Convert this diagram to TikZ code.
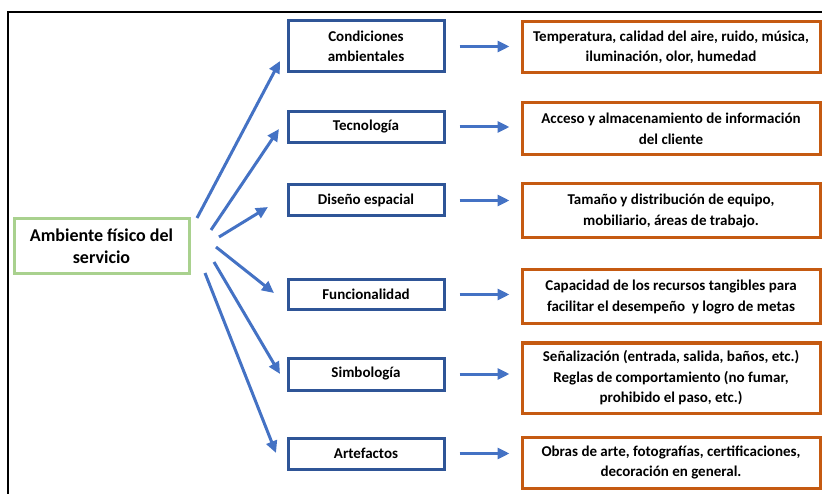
\documentclass[tikz,border=0pt]{standalone}
\usepackage{fontspec}
\setmainfont{Carlito}
\usetikzlibrary{arrows.meta}
\definecolor{boxblue}{RGB}{47,85,151}
\definecolor{boxorange}{RGB}{197,90,17}
\definecolor{boxgreen}{RGB}{169,209,142}
\definecolor{arrowblue}{RGB}{68,114,196}
\tikzset{
  base/.style={rectangle, align=center, inner sep=2pt, text=black,
    font=\bfseries\fontsize{15}{20.5}\selectfont},
  catbox/.style={base, draw=boxblue, line width=3pt, minimum width=156pt},
  descbox/.style={base, draw=boxorange, line width=3pt, minimum width=298pt},
  rootbox/.style={base, draw=boxgreen, line width=3pt, minimum width=175pt,
    minimum height=55pt, font=\bfseries\fontsize{18}{22}\selectfont},
  link/.style={draw=arrowblue, line width=3pt,
    -{Triangle[length=12pt,width=11pt]}},
  frameline/.style={draw=black, line width=2pt}
}
\begin{document}
\begin{tikzpicture}[x=1pt,y=-1pt]
\useasboundingbox (0,0) rectangle (822,494);
\draw[frameline] (8,494) -- (8,12) -- (822,12);

% root
\node[rootbox] (root) at (101.5,246.5) {Ambiente físico del\\servicio};

% categories
\node[catbox, minimum height=51pt] (b1) at (366,46.5) {Condiciones\\ambientales};
\node[catbox, minimum height=31pt] (b2) at (366,127) {Tecnología};
\node[catbox, minimum height=31pt] (b3) at (366,200.5) {Diseño espacial};
\node[catbox, minimum height=30pt] (b4) at (366,294.5) {Funcionalidad};
\node[catbox, minimum height=32pt] (b5) at (366,374) {Simbología};
\node[catbox, minimum height=31pt] (b6) at (366,453.5) {Artefactos};

% descriptions
\node[descbox, minimum height=51pt] (o1) at (671,47.5) {Temperatura, calidad del aire, ruido, música,\\iluminación, olor, humedad};
\node[descbox, minimum height=52pt] (o2) at (671,129) {Acceso y almacenamiento de información\\del cliente};
\node[descbox, minimum height=54pt] (o3) at (671,211) {Tamaño y distribución de equipo,\\mobiliario, áreas de trabajo.};
\node[descbox, minimum height=54pt] (o4) at (671,297) {Capacidad de los recursos tangibles para\\facilitar el desempeño\ \ y logro de metas};
\node[descbox, minimum height=70pt] (o5) at (671,378) {Señalización (entrada, salida, baños, etc.)\\Reglas de comportamiento (no fumar,\\prohibido el paso, etc.)};
\node[descbox, minimum height=51pt] (o6) at (671,462.5) {Obras de arte, fotografías, certificaciones,\\decoración en general.};

% fan of arrows from the root
\coordinate (s1) at (197,218); \coordinate (e1) at (280,61);
\coordinate (s2) at (211,230); \coordinate (e2) at (279,129);
\coordinate (s3) at (219,237); \coordinate (e3) at (268,207);
\coordinate (s4) at (216,247); \coordinate (e4) at (274,293);
\coordinate (s5) at (214,262); \coordinate (e5) at (280,374);
\coordinate (s6) at (205,273); \coordinate (e6) at (276,453);
\foreach \i in {1,...,6} {\draw[link] (s\i) -- (e\i);}

% category to description
\foreach \i in {1,...,6} {
  \draw[link, shorten <=14pt, shorten >=11pt] (b\i.east) -- (b\i.east -| o\i.west);
}
\end{tikzpicture}
\end{document}
